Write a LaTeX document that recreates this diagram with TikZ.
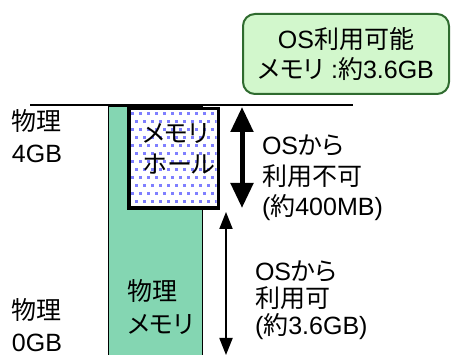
\documentclass[tikz,border=0pt]{standalone}
\usepackage{fontspec}
\setmainfont{Liberation Sans}
\newfontfamily\jp[CharacterWidth=AlternateProportional]{Noto Sans CJK JP}
\usetikzlibrary{arrows.meta}
\definecolor{memgreen}{HTML}{84D6B2}
\definecolor{boxfill}{HTML}{D2F7CC}
\definecolor{boxline}{HTML}{2F6B2F}
\definecolor{dotblue}{HTML}{7F7FFF}
\begin{document}
\begin{tikzpicture}[x=1pt,y=-1pt,
  every node/.style={inner sep=0pt, outer sep=0pt},
  lbl/.style={font=\fontsize{25}{31}\selectfont, align=left, anchor=base west},
  jplbl/.style={lbl, font=\fontsize{25}{31}\selectfont\jp},
  bigarrow/.style={line width=5pt, {Triangle[length=25pt 0, width=22pt 0]}-{Triangle[length=25pt 0, width=22pt 0]}},
  thinarrow/.style={line width=1.8pt, {Triangle[length=17pt 0, width=13pt 0]}-{Triangle[length=17pt 0, width=13pt 0]}}]
\useasboundingbox (0,0) rectangle (451,355);
% available-memory box
\node[draw=boxline, fill=boxfill, line width=2pt, rounded corners=12pt,
      minimum width=206pt, minimum height=80pt, anchor=north west,
      font=\fontsize{25}{30}\selectfont, align=center] (osbox) at (243,14)
      {OS{\jp 利用可能}\\{\jp メモリ} :{\jp 約}3.6GB};
% top line
\coordinate (lineL) at (30,105);
\coordinate (lineR) at (353,105);
\draw[line width=1.5pt] (lineL) -- (lineR);
% physical memory column
\node[draw, fill=memgreen, line width=1pt, minimum width=93.5pt, minimum height=260pt,
      anchor=north west] (phys) at (108.5,107) {};
% memory hole
\node[draw, fill=white, line width=3.5pt, minimum width=89.5pt, minimum height=99.5pt,
      anchor=north west] (hole) at (128.75,108.75) {};
\begin{scope}
  \clip (130.5,110.5) rectangle (216.5,206.5);
  \foreach \r in {0,...,12} {
    \foreach \c in {0,...,11} {
      \fill[dotblue] ({131+8*\c+4*mod(\r,2)},{112+8*\r}) rectangle +(2.6,2.6);
    }
  }
\end{scope}
% texts (base anchor = baseline of the last line)
\node[lbl, font=\fontsize{25}{32}\selectfont] (p4) at (12,163) {{\jp 物理}\\4GB};
\node[lbl, font=\fontsize{25}{32}\selectfont] (p0) at (12,351.5) {{\jp 物理}\\0GB};
\node[jplbl] (holetxt) at (143,174) {メモリ\\ホール};
\node[jplbl, font=\fontsize{25}{33}\selectfont\jp] (memtxt) at (128,334) {物理\\メモリ};
\node[lbl, font=\fontsize{25}{30.5}\selectfont] (ng) at (262,216) {OS{\jp から}\\{\jp 利用不可}\\({\jp 約}400MB)};
\node[lbl, font=\fontsize{25}{27}\selectfont] (ok) at (255,335) {OS{\jp から}\\{\jp 利用可}\\({\jp 約}3.6GB)};
% arrows
\coordinate (a1t) at (242,107);
\coordinate (a1b) at (242,208);
\draw[bigarrow] (a1t) -- (a1b);
\coordinate (a2t) at (226,212);
\coordinate (a2b) at (226,355);
\draw[thinarrow] (a2t) -- (a2b);
\end{tikzpicture}
\end{document}
